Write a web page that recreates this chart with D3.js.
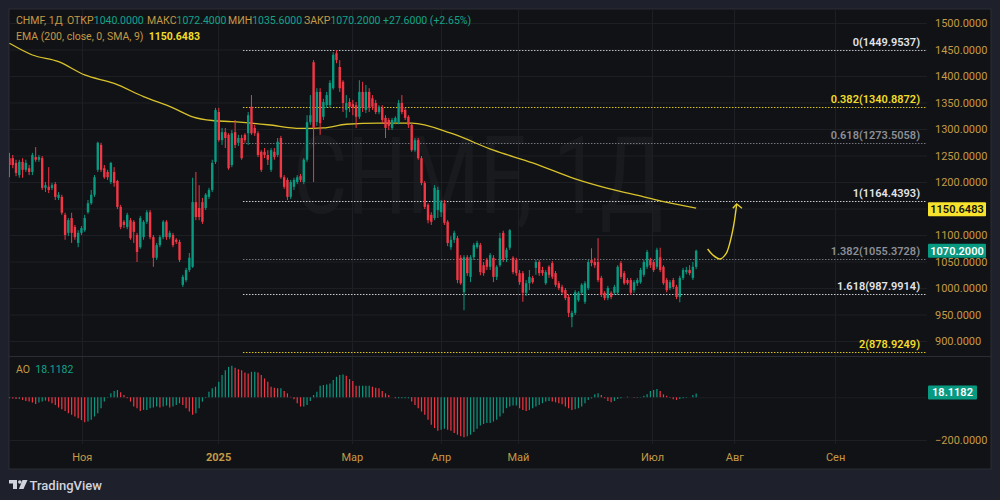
<!DOCTYPE html>
<html><head><meta charset="utf-8">
<script src="https://cdn.jsdelivr.net/npm/d3@7"></script>
<style>
html,body{margin:0;padding:0;background:#1e212b;}
svg{display:block;font-family:Roboto,"Noto Sans",sans-serif;}
</style></head><body>
<svg id="c" width="1000" height="500"></svg>
<script>
// ---------------- DATA ----------------
const opens=[1245,1245,1236,1213,1238,1223,1226,1219,1247,1242,
1245,1189,1191,1189,1196,1170,1172,1138,1104,1132,
1115,1085,1104,1109,1143,1160,1176,1223,1270,1226,
1219,1200,1219,1202,1153,1125,1115,1128,1125,1100,
1077,1096,1125,1143,1096,1057,1081,1096,1125,1096,
1100,1091,1087,1006,1015,1034,1040,1162,1151,1162,
1151,1172,1185,1238,1332,1279,1294,1289,1232,1294,
1274,1283,1289,1292,1342,1302,1292,1257,1257,1251,
1223,1257,1251,1283,1209,1204,1172,1191,1200,1211,
1200,1242,1313,1426,1313,1370,1323,1345,1345,1377,
1443,1417,1389,1336,1351,1347,1345,1323,1370,1336,
1370,1358,1349,1332,1340,1321,1317,1302,1313,1313,
1349,1336,1323,1308,1260,1279,1245,1198,1157,1138,
1132,1147,1143,1160,1125,1077,1091,1094,1057,992,
1058,1021,1058,1077,1081,1043,1053,1040,1057,1021,
1043,1104,1057,1076,1057,1053,1028,1028,991,1009,
1019,1038,1049,1034,1009,1040,1047,1028,1009,1002,
996,983,945,953,977,991,974,1000,1053,1049,
1049,1019,991,981,991,991,991,1047,1028,1015,
1015,996,1009,1011,1025,1040,1053,1049,1040,1058,
1040,1015,1000,1015,1002,983,1019,1030,1034,1019,
1040];
const highs=[1255,1251,1242,1242,1245,1242,1232,1255,1266,1251,
1249,1200,1228,1198,1200,1181,1176,1142,1132,1142,
1119,1109,1117,1138,1166,1185,1213,1276,1274,1232,
1223,1238,1228,1204,1157,1128,1142,1132,1128,1104,
1136,1128,1147,1147,1100,1085,1100,1128,1128,1108,
1104,1094,1091,1025,1038,1066,1208,1219,1194,1170,
1179,1189,1242,1340,1340,1302,1302,1292,1298,1317,
1289,1289,1292,1332,1364,1308,1296,1260,1264,1260,
1264,1264,1283,1287,1213,1208,1204,1208,1213,1215,
1245,1326,1364,1430,1377,1377,1357,1370,1392,1445,
1449,1430,1392,1364,1358,1355,1351,1392,1389,1383,
1377,1364,1355,1345,1345,1326,1321,1321,1324,1355,
1364,1340,1326,1311,1283,1283,1249,1202,1160,1143,
1194,1191,1166,1166,1128,1098,1108,1098,1062,1062,
1062,1062,1085,1089,1085,1049,1057,1066,1062,1043,
1104,1108,1076,1111,1060,1057,1034,1032,1015,1034,
1023,1053,1053,1040,1034,1043,1051,1032,1013,1006,
1000,987,957,996,994,1009,1013,1053,1075,1057,
1094,1023,994,1004,994,1006,1043,1051,1032,1019,
1019,1015,1019,1038,1053,1072,1057,1053,1076,1076,
1043,1019,1015,1019,1006,1023,1038,1040,1043,1049,
1072.4];
const lows=[1209,1226,1211,1208,1208,1219,1213,1213,1238,1238,
1185,1181,1179,1185,1166,1166,1138,1091,1098,1085,
1091,1077,1100,1106,1140,1157,1172,1219,1219,1206,
1204,1196,1191,1149,1111,1113,1111,1091,1085,1049,
1074,1091,1121,1092,1040,1053,1077,1092,1091,1092,
1077,1083,1049,1002,1011,1030,1038,1128,1128,1121,
1147,1168,1181,1234,1276,1270,1264,1223,1228,1264,
1268,1242,1274,1270,1289,1287,1247,1219,1245,1232,
1219,1242,1247,1206,1187,1166,1168,1185,1196,1200,
1196,1238,1308,1200,1306,1289,1317,1340,1340,1374,
1424,1370,1332,1321,1332,1326,1302,1319,1332,1330,
1332,1336,1328,1328,1311,1283,1298,1298,1309,1309,
1328,1317,1302,1257,1257,1242,1194,1149,1122,1119,
1128,1132,1134,1119,1079,1072,1085,1009,1006,958,
1023,1011,1053,1074,1024,1023,1034,1034,1011,1015,
1040,1049,1049,1072,1026,1023,1006,974,985,996,
1008,1025,1023,1023,1006,1019,1017,1002,996,989,
977,945,926,949,974,987,970,996,1041,1038,
1011,983,977,977,979,987,987,1017,1006,1006,
987,991,1004,1008,1021,1036,1038,1030,1036,1030,
1006,992,996,998,979,973,1015,1026,1024,1015,
1035.6];
const closes=[1232,1232,1217,1238,1223,1236,1219,1251,1242,1247,
1189,1194,1185,1194,1172,1176,1142,1100,1128,1104,
1096,1104,1113,1132,1160,1176,1209,1274,1223,1209,
1209,1236,1198,1153,1115,1119,1138,1094,1106,1068,
1132,1125,1143,1096,1057,1081,1096,1125,1096,1104,
1081,1087,1053,1021,1034,1057,1162,1134,1134,1125,
1176,1185,1236,1336,1279,1294,1283,1226,1292,1270,
1283,1245,1279,1326,1292,1292,1251,1223,1251,1242,
1260,1247,1276,1209,1191,1172,1200,1204,1209,1204,
1242,1313,1326,1302,1370,1311,1351,1364,1387,1440,
1430,1377,1349,1349,1342,1340,1323,1370,1340,1370,
1340,1342,1332,1342,1317,1302,1306,1317,1321,1349,
1332,1321,1308,1260,1279,1245,1198,1153,1128,1125,
1189,1185,1162,1123,1085,1091,1104,1015,1009,1058,
1028,1058,1081,1085,1030,1028,1040,1062,1021,1040,
1094,1053,1072,1109,1030,1028,1011,991,1009,1021,
1011,1049,1028,1028,1030,1025,1021,1006,1000,992,
981,953,953,992,991,1006,1009,1049,1047,1043,
1015,987,981,1000,983,1002,1040,1021,1009,1009,
991,1011,1015,1034,1049,1068,1043,1034,1072,1034,
1009,996,1011,1002,983,1019,1034,1034,1028,1040,
1070.2];

// EMA(200) read at selected bars
const emaBars=[0,7,15,23,32,41,50,56,62,68,79,89,96,103,113,123,135,148,160,173,183,194,200,210];
const emaVals=[1461.7,1439.6,1427,1402,1386,1361,1340,1323,1316,1314,1308,1301,1302,1309,1311,1311,1292,1260,1236,1206,1188,1172,1163,1150.6483];

// Awesome Oscillator values per bar
const aoVals=[-4.7,-6.2,-7.8,-7.8,-12.4,-17.1,-20.2,-24.8,-31,-24.8,-20.2,-15.5,-20.2,
-27.9,-35.7,-48.1,-55.8,-63.6,-74.4,-82.2,-89.9,-97.7,-107,-116.3,-113.2,-105.4,-89.9,-74.4,-51.2,
-20.2,-1.6,18.6,29.5,34.1,23.3,10.9,-4.7,-20.2,-43.4,-51.2,-63.6,-58.9,-58.9,-51.2,-48.1,
-43.4,-48.1,-43.4,-38.8,-48.1,-43.4,-35.7,-27.9,-35.7,-51.2,-66.7,-82.2,-74.4,-51.2,-20.2,
-1.6,26.4,41.9,49.6,72.9,103.9,127.1,142.6,147.3,138,131.8,127.1,116.3,111.6,119.4,119.4,
116.3,103.9,88.4,72.9,49.6,45,41.9,41.9,29.5,18.6,3.1,-9.3,-27.9,-43.4,-43.4,-35.7,-17.1,
10.9,26.4,54.3,57.4,60.5,65.1,80.6,96.1,103.9,107,100.8,85.3,76,54.3,54.3,54.3,54.3,54.3,
49.6,45,41.9,29.5,18.6,10.9,0,-4.7,-4.7,-4.7,-4.7,-4.7,-20.2,-35.7,-51.2,-66.7,-82.2,-105.4,
-128.7,-144.2,-156.6,-151.9,-147.3,-151.9,-156.6,-167.4,-175.2,-182.9,-187.6,-182.9,-175.2,
-162.8,-147.3,-131.8,-125.6,-120.9,-120.9,-113.2,-105.4,
-89.9,-74.4,-51.2,-43.4,-38.8,-38.8,-51.2,-58.9,-63.6,-58.9,-51.2,-43.4,-35.7,-27.9,-20.2,
-17.1,-20.2,-23.3,-27.9,-32.6,-43.4,-51.2,-58.9,-55.8,-51.2,-43.4,-27.9,-12.4,-4.7,13.9,18.6,
10.9,-4.7,-17.1,-23.3,-17.1,-7.8,-4.7,0,3.1,0,-1.6,-1.6,1.6,7.8,13.9,29.5,34.1,38.8,29.5,
13.9,7.8,-1.6,-9.3,-12.4,-7.8,-4.7,-1.6,0,10.9,18.1182];

const priceTicks=[900,950,1000,1050,1100,1150,1200,1250,1300,1350,1400,1450,1500];
const hiddenTickLabels=[1150]; // fully covered by the EMA value tag in the original
const aoTicks=[-200];
const fibRatios=["0","0.382","0.618","1","1.382","1.618","2"];
const fibPrices=[1449.9537,1340.8872,1273.5058,1164.4393,1055.3728,987.9914,878.9249];
const fibStartBar=71.4;
const monthLabels=["Ноя","2025","Мар","Апр","Май","Июл","Авг","Сен"];
const monthBars=[22.1,63.8,104.7,131.9,155.5,196.5,221.7,252.5];
// hand-drawn forecast arrow (bar position, price)
const arrowBars=[213.5,215.1,217.3,219.1,220.3,221.5,222.4];
const arrowPrices=[1073.6,1062.3,1054.7,1064.2,1085,1118.9,1158.5];
const arrowHeadBars=[221.2,222.4,224.0];
const arrowHeadPrices=[1150.4,1158.5,1150.4];

const ticker="CHMF, 1Д", change="+27.6000 (+2.65%)";
const lastClose=1070.2, lastEma=1150.6483, lastAO=18.1182;

// ---------------- LAYOUT ----------------
const svg=d3.select("#c");
const L=9,R=927,FR=991,T=9,MB=356,AB=443,FB=469;
const GOLD="#c49a45", TEAL="#089981", VAL="#12a38b", RED="#f23645", GRID="#1d1f25";
const xs=d3.scaleLinear().domain([0,280.6]).range([9.5,927]);
const ys=d3.scaleLinear().domain([900,1500]).range([341,23]);
const ya=d3.scaleLinear().domain([-200,0]).range([440,397.3]);

svg.append("rect").attr("width",1000).attr("height",500).attr("fill","#1e212b");
svg.append("rect").attr("x",L).attr("y",T).attr("width",FR-L).attr("height",FB-T)
  .attr("fill","#111215").attr("stroke","#2a2d36");

const defs=svg.append("defs");
defs.append("clipPath").attr("id","mc").append("rect").attr("x",L).attr("y",T).attr("width",R-L).attr("height",MB-T);
defs.append("clipPath").attr("id","ac").append("rect").attr("x",L).attr("y",MB+1).attr("width",R-L).attr("height",AB-MB-1);

// watermark
svg.append("text").attr("x",(L+R)/2+10).attr("y",213).attr("text-anchor","middle")
  .attr("font-size",108).attr("textLength",370).attr("lengthAdjust","spacingAndGlyphs")
  .attr("fill","rgba(255,255,255,0.035)").text(ticker);

// grid
const g=svg.append("g");
g.selectAll(".hg").data(priceTicks).enter().append("line")
  .attr("x1",L).attr("x2",R).attr("y1",d=>ys(d)+0.5).attr("y2",d=>ys(d)+0.5).attr("stroke",GRID);
g.selectAll(".vg").data(monthBars).enter().append("line")
  .attr("x1",d=>Math.round(xs(d))+0.5).attr("x2",d=>Math.round(xs(d))+0.5).attr("y1",T).attr("y2",AB+1).attr("stroke",GRID);
[0,-200].forEach(v=>g.append("line").attr("x1",L).attr("x2",R).attr("y1",ya(v)+0.5).attr("y2",ya(v)+0.5).attr("stroke",GRID));
svg.append("line").attr("x1",L).attr("x2",FR).attr("y1",MB+0.5).attr("y2",MB+0.5).attr("stroke","#2a2d36");

// fib levels
const fibLine=["#b8bbc2","#d9c21e","#74777f","#c9ccd3","#74777f","#c9ccd3","#d9c21e"];
const fibText=["#e3e5ea","#f2dc2a","#8c8f97","#e3e5ea","#8c8f97","#e3e5ea","#f2dc2a"];
const mg=svg.append("g").attr("clip-path","url(#mc)");
mg.selectAll(".fl").data(fibPrices).enter().append("line")
  .attr("x1",xs(fibStartBar)).attr("x2",R).attr("y1",d=>Math.round(ys(d))+0.5).attr("y2",d=>Math.round(ys(d))+0.5)
  .attr("stroke",(d,i)=>fibLine[i]).attr("stroke-dasharray","1.5,1.5");
svg.selectAll(".ft").data(fibPrices).enter().append("text")
  .attr("x",920).attr("y",d=>ys(d)-4).attr("text-anchor","end").attr("font-size",11).attr("font-weight",600)
  .attr("fill",(d,i)=>fibText[i]).text((d,i)=>fibRatios[i]+"("+d.toFixed(4)+")");

// EMA
mg.append("path").datum(emaBars.map((b,i)=>[b,emaVals[i]]))
  .attr("d",d3.line().x(d=>xs(d[0])).y(d=>ys(d[1])).curve(d3.curveMonotoneX))
  .attr("fill","none").attr("stroke","#d8c22c").attr("stroke-width",1.3);

// candles
const bars=d3.range(closes.length);
const cg=mg.append("g");
cg.selectAll(".w").data(bars).enter().append("line")
  .attr("x1",i=>xs(i)).attr("x2",i=>xs(i)).attr("y1",i=>ys(highs[i])).attr("y2",i=>ys(lows[i]))
  .attr("stroke",i=>closes[i]>=opens[i]?TEAL:RED).attr("stroke-width",1);
cg.selectAll(".b").data(bars).enter().append("rect")
  .attr("x",i=>xs(i)-1.2).attr("width",2.4)
  .attr("y",i=>ys(Math.max(opens[i],closes[i])))
  .attr("height",i=>Math.max(1,Math.abs(ys(opens[i])-ys(closes[i]))))
  .attr("fill",i=>closes[i]>=opens[i]?TEAL:RED);

// forecast arrow
const arrowCol="#e6d02e";
mg.append("path").datum(arrowBars.map((b,i)=>[b,arrowPrices[i]]))
  .attr("d",d3.line().x(d=>xs(d[0])).y(d=>ys(d[1])).curve(d3.curveCatmullRom))
  .attr("fill","none").attr("stroke",arrowCol).attr("stroke-width",1.4);
mg.append("path").datum(arrowHeadBars.map((b,i)=>[b,arrowHeadPrices[i]]))
  .attr("d",d3.line().x(d=>xs(d[0])).y(d=>ys(d[1])))
  .attr("fill","none").attr("stroke",arrowCol).attr("stroke-width",1.4);

// AO histogram
const ag=svg.append("g").attr("clip-path","url(#ac)");
ag.selectAll(".ao").data(aoVals).enter().append("line")
  .attr("x1",(d,i)=>xs(i)).attr("x2",(d,i)=>xs(i)).attr("y1",ya(0)).attr("y2",d=>ya(d))
  .attr("stroke",(d,i)=>(i===0||d>=aoVals[i-1])?TEAL:RED).attr("stroke-width",1.2);

// price axis
const pa=svg.append("g").attr("transform",`translate(${R},0)`)
  .call(d3.axisRight(ys).tickValues(priceTicks).tickSize(0).tickPadding(8)
    .tickFormat(d=>hiddenTickLabels.includes(d)?"":d.toFixed(4)));
pa.select(".domain").remove();
pa.selectAll("text").attr("fill",GOLD).attr("font-size",11).attr("font-family","Roboto,sans-serif");
const aa=svg.append("g").attr("transform",`translate(${R},0)`)
  .call(d3.axisRight(ya).tickValues(aoTicks).tickSize(0).tickPadding(8).tickFormat(d=>"−"+Math.abs(d).toFixed(4)));
aa.select(".domain").remove();
aa.selectAll("text").attr("fill",GOLD).attr("font-size",11).attr("font-family","Roboto,sans-serif");

// time axis
const ta=svg.append("g").attr("transform",`translate(0,${AB})`)
  .call(d3.axisBottom(xs).tickValues(monthBars).tickSize(0).tickPadding(10).tickFormat((d,i)=>monthLabels[i]));
ta.select(".domain").remove();
ta.selectAll("text").attr("fill",GOLD).attr("font-size",11).attr("font-family","Roboto,sans-serif")
  .attr("font-weight",(d,i)=>monthLabels[i]==="2025"?700:400);

// value labels on axis
function tag(y,txt,bg,fg,w){
  svg.append("rect").attr("x",928).attr("y",y-7).attr("width",w).attr("height",14).attr("rx",1).attr("fill",bg);
  svg.append("text").attr("x",928+w/2).attr("y",y+4).attr("text-anchor","middle").attr("font-size",11)
    .attr("font-weight",600).attr("fill",fg).text(txt);
}
tag(ys(lastEma)+1,lastEma.toFixed(4),"#f7e22c","#131313",58);
tag(ys(lastClose),lastClose.toFixed(4),TEAL,"#ffffff",58);
tag(ya(lastAO)-1,lastAO.toFixed(4),TEAL,"#ffffff",49);

// header legend (each item placed at its own x)
const hdr=[[16,"",ticker],[67,"ОТКР",opens[opens.length-1].toFixed(4)],[147,"МАКС",highs[highs.length-1].toFixed(4)],
  [228,"МИН",lows[lows.length-1].toFixed(4)],[304,"ЗАКР",closes[closes.length-1].toFixed(4)+" "+change]];
hdr.forEach(h=>{
  const t=svg.append("text").attr("x",h[0]).attr("y",24).attr("font-size",10.5).attr("xml:space","preserve");
  if(h[1]){t.append("tspan").attr("fill",GOLD).text(h[1]);t.append("tspan").attr("fill",VAL).text(h[2]);}
  else t.append("tspan").attr("fill",GOLD).text(h[2]);
});
const h2=svg.append("text").attr("x",16).attr("y",40).attr("font-size",10.5).attr("xml:space","preserve");
h2.append("tspan").attr("fill",GOLD).text("EMA (200, close, 0, SMA, 9)  ");
h2.append("tspan").attr("fill","#f2dc2a").attr("font-weight",700).text(lastEma.toFixed(4));
const h3=svg.append("text").attr("x",16).attr("y",373).attr("font-size",10.5).attr("xml:space","preserve");
h3.append("tspan").attr("fill",GOLD).text("AO  ");
h3.append("tspan").attr("fill",VAL).text(lastAO.toFixed(4));

// TradingView logo
const lg=svg.append("g").attr("fill","#d1d4dc");
lg.append("path").attr("d","M9 480h8v9h-4v-5.5H9z");
lg.append("circle").attr("cx",19.8).attr("cy",482).attr("r",1.8);
lg.append("path").attr("d","M22.5 480h5l-4 9h-4.6z");
svg.append("text").attr("x",29.5).attr("y",489.5).attr("font-size",13).attr("font-weight",500)
  .attr("fill","#d1d4dc").text("TradingView");
</script>
</body></html>
